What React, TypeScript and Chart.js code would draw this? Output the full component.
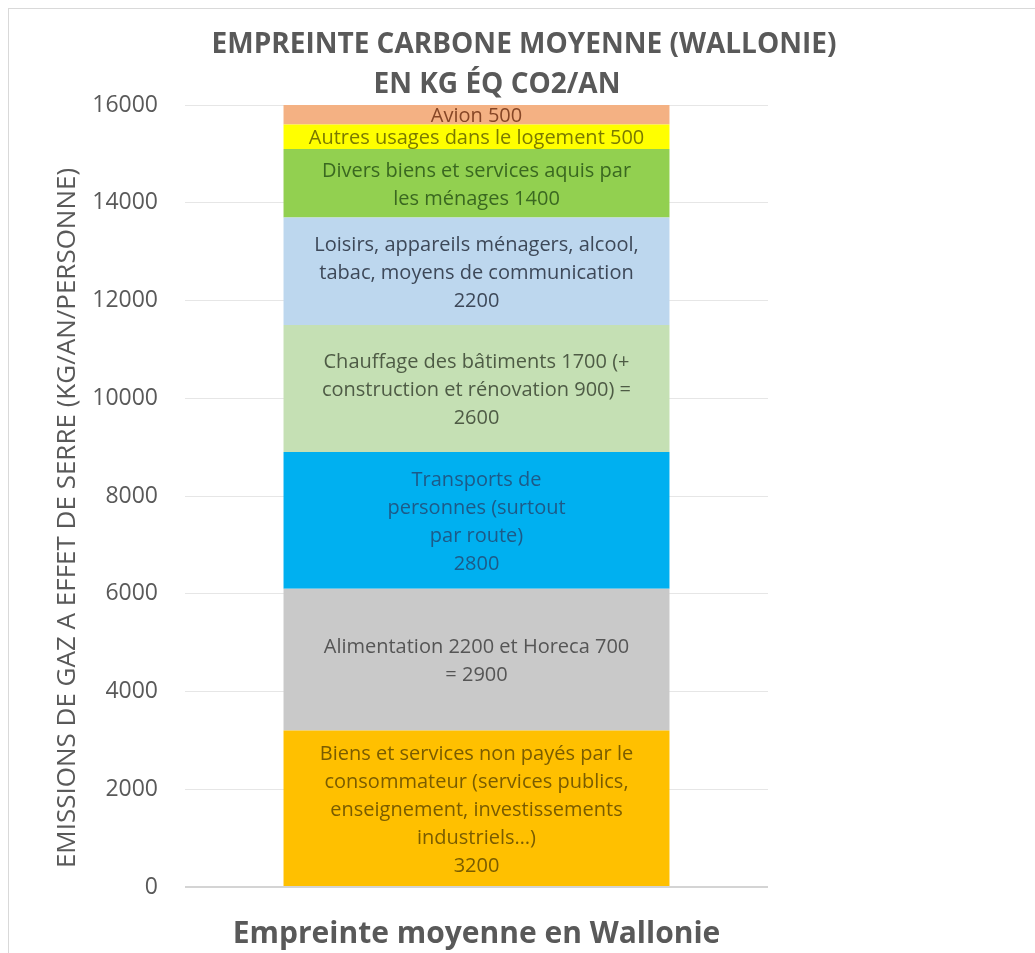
import React, { useEffect, useRef } from "react";
import { Chart, registerables } from "chart.js";

Chart.register(...registerables);

const categories = ["Empreinte moyenne en Wallonie"];

const seriesNames = [
  "Biens et services non payés par le consommateur",
  "Alimentation et Horeca",
  "Transports de personnes",
  "Chauffage, construction et rénovation",
  "Loisirs, appareils ménagers, alcool, tabac, communication",
  "Divers biens et services",
  "Autres usages dans le logement",
  "Avion",
];

const seriesValues = [3200, 2900, 2800, 2600, 2200, 1400, 500, 500];

const seriesColors = [
  "#FFC000",
  "#C9C9C9",
  "#00B0F0",
  "#C5E0B4",
  "#BDD7EE",
  "#92D050",
  "#FFFF00",
  "#F4B183",
];

const labelColors = [
  "#7A5C00",
  "#555555",
  "#1D5A88",
  "#4E5B45",
  "#3D4858",
  "#3A6820",
  "#7A7A00",
  "#864626",
];

const segmentLabels = [
  [
    "Biens et services non payés par le",
    "consommateur (services publics,",
    "enseignement, investissements",
    "industriels…)",
    "3200",
  ],
  ["Alimentation 2200 et Horeca 700", "= 2900"],
  ["Transports de", "personnes (surtout", "par route)", "2800"],
  ["Chauffage des bâtiments 1700 (+", "construction et rénovation 900) =", "2600"],
  ["Loisirs, appareils ménagers, alcool,", "tabac, moyens de communication", "2200"],
  ["Divers biens et services aquis par", "les ménages 1400"],
  ["Autres usages dans le logement 500"],
  ["Avion 500"],
];

const yMin = 0;
const yMax = 16000;
const yStep = 2000;

const titleLines = ["EMPREINTE CARBONE MOYENNE (WALLONIE)", "EN KG ÉQ CO2/AN"];
const yAxisTitle = "EMISSIONS DE GAZ A EFFET DE SERRE (KG/AN/PERSONNE)";

const FONT = "'Open Sans', 'DejaVu Sans', sans-serif";
const TEXT_GREY = "#595959";

const segmentLabelPlugin = {
  id: "segmentLabels",
  afterDatasetsDraw(chart: any) {
    const { ctx, chartArea } = chart;
    chart.data.datasets.forEach((_ds: any, i: number) => {
      const meta = chart.getDatasetMeta(i);
      meta.data.forEach((el: any) => {
        const p = el.getProps(["x", "y", "base"], true);
        const top = Math.max(Math.min(p.y, p.base), chartArea.top);
        const bottom = Math.min(Math.max(p.y, p.base), chartArea.bottom);
        const cy = (top + bottom) / 2 + 2;
        const lines = segmentLabels[i] || [];
        const lh = 28;
        ctx.save();
        ctx.font = `20px ${FONT}`;
        ctx.fillStyle = labelColors[i];
        ctx.textAlign = "center";
        ctx.textBaseline = "middle";
        lines.forEach((t: string, k: number) => {
          ctx.fillText(t, p.x, cy + (k - (lines.length - 1) / 2) * lh);
        });
        ctx.restore();
      });
    });
  },
};

const titlesPlugin = {
  id: "customTitles",
  afterDraw(chart: any) {
    const { ctx } = chart;
    ctx.save();
    ctx.fillStyle = TEXT_GREY;
    ctx.textAlign = "center";
    ctx.textBaseline = "alphabetic";
    ctx.font = `bold 28px ${FONT}`;
    ctx.fillText(titleLines[0], 515, 44);
    ctx.fillText(titleLines[1], 488, 84);
    ctx.translate(59, 509);
    ctx.rotate(-Math.PI / 2);
    ctx.textBaseline = "middle";
    ctx.font = `26px ${FONT}`;
    ctx.fillText(yAxisTitle, 0, 0);
    ctx.restore();
  },
};

export default function App() {
  const canvasRef = useRef<HTMLCanvasElement | null>(null);

  useEffect(() => {
    if (!canvasRef.current) return;
    const chart = new Chart(canvasRef.current, {
      type: "bar",
      data: {
        labels: categories,
        datasets: seriesValues.map((v, i) => ({
          label: seriesNames[i],
          data: [v],
          backgroundColor: seriesColors[i],
          borderWidth: 0,
          categoryPercentage: 1,
          barPercentage: 0.662,
        })),
      },
      options: {
        animation: false,
        responsive: true,
        maintainAspectRatio: false,
        layout: { padding: { left: 40, right: 267, top: 96, bottom: 0 } },
        plugins: {
          legend: { display: false },
          tooltip: { enabled: false },
          title: { display: false },
        },
        scales: {
          x: {
            stacked: true,
            grid: { display: false, drawTicks: false },
            border: { display: false },
            ticks: {
              color: TEXT_GREY,
              padding: 29,
              font: { family: FONT, size: 30, weight: "bold" },
            },
            afterFit: (scale: any) => {
              scale.height = 66;
            },
          },
          y: {
            stacked: true,
            min: yMin,
            max: yMax,
            border: { display: false },
            grid: {
              drawTicks: false,
              color: (c: any) => (c.tick && c.tick.value === 0 ? "#D4D4D4" : "#E6E6E6"),
              lineWidth: (c: any) => (c.tick && c.tick.value === 0 ? 2 : 1),
            },
            ticks: {
              stepSize: yStep,
              color: TEXT_GREY,
              padding: 27,
              font: { family: FONT, size: 23 },
              callback: (v: any) => String(v),
            },
            afterFit: (scale: any) => {
              scale.width = 136;
            },
          },
        },
      },
      plugins: [segmentLabelPlugin, titlesPlugin],
    });
    return () => chart.destroy();
  }, []);

  return (
    <div
      style={{
        position: "fixed",
        left: 8,
        top: 8,
        width: 1026,
        height: 944,
        borderTop: "1px solid #D9D9D9",
        borderLeft: "1px solid #D9D9D9",
        background: "#FFFFFF",
      }}
    >
      <canvas ref={canvasRef} />
    </div>
  );
}
